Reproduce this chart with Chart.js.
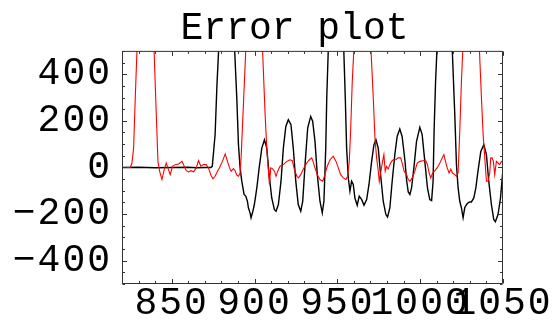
<!DOCTYPE html>
<html>
<head>
<meta charset="utf-8">
<script src="https://cdn.jsdelivr.net/npm/chart.js@4.4.1/dist/chart.umd.min.js"></script>
<style>
  html, body { margin: 0; padding: 0; background: #fff; }
</style>
</head>
<body>
<canvas id="errorChart" width="557" height="321"></canvas>
<script>
// === Error plot ===
const xTicks = [850, 900, 950, 1000, 1050];
const yTicks = [-400, -200, 0, 200, 400];

const blackX = [820, 830, 840, 850, 860, 865, 870, 873.6, 874.5, 876.2, 877.3, 883.3, 889.3, 890.3, 891.3, 892.3,
  893.7, 894.7, 895.7, 896.3, 897.3, 897.9, 899.0, 899.9, 901.4, 902.8, 904.4, 906.0, 907.4, 908.8, 910.4, 912.0,
  913.0, 914.4, 916.0, 917.4, 918.9, 920.4, 922.0, 923.4, 924.9, 926.4, 927.9, 929.1, 930.5, 932.1, 933.9, 935.1,
  936.5, 937.9, 939.5, 940.9, 941.9, 943.0, 943.6, 949.2, 954.8, 955.6, 956.6, 957.6, 958.6, 959.6, 960.6, 962.0,
  963.2, 964.7, 966.1, 967.7, 969.1, 970.7, 972.1, 973.3, 974.7, 976.1, 977.7, 979.3, 980.3, 981.7, 983.1, 984.7,
  986.1, 987.7, 989.1, 990.8, 991.8, 992.8, 993.8, 994.8, 996.2, 997.8, 999.8, 1001.2, 1002.8, 1004.4, 1005.8, 1006.9,
  1007.8, 1008.4, 1009.3, 1015, 1020.9, 1021.9, 1022.9, 1023.9, 1024.9, 1025.9, 1026.9, 1028.0, 1028.9, 1029.9, 1030.9,
  1032.4, 1033.6, 1034.9, 1036.6, 1038.4, 1040.0, 1041.4, 1043.0, 1044.4, 1045.4, 1047.0, 1048.5, 1049.7, 1050];
const blackY = [0, 1, -1, 0, 1, -1, 0, 0, 5, 140, 350, 1250, 297, 98, -2, -59,
  -116, -123, -145, -173, -195, -216, -188, -159, -88, -2, 83, 119, 83, -31, -131, -181,
  -188, -159, -59, 83, 176, 205, 183, 83, -59, -159, -188, -145, 12, 169, 219, 198,
  112, -31, -145, -195, -145, 83, 297, 1557, 297, 83, -45, -102, -59, -73, -131, -162,
  -123, -138, -162, -138, -73, 26, 98, 119, 83, -31, -145, -202, -213, -173, -59, 55,
  133, 165, 133, 30, -55, -105, -116, -88, -2, 112, 172, 141, 26, -88, -138, -142,
  -59, 155, 369, 1300, 226, 12, -88, -145, -173, -216, -173, -159, -152, -148, -148,
  -131, -88, -16, 69, 98, 55, -59, -159, -223, -233, -202, -131, -31, -10];

const redX = [820, 825, 826, 827, 828, 834.3, 840.7, 841.7, 842.7, 844.1, 845.5, 846.7, 847.7, 849.1, 850.5, 852.1,
  854.1, 856.2, 857.6, 858.8, 860.1, 861.6, 863.2, 864.8, 866.2, 867.6, 869.2, 870.8, 872.2, 873.6, 874.9, 876.2,
  877.6, 878.8, 880.6, 882.3, 883.7, 884.9, 885.9, 887.3, 888.3, 889.3, 890.3, 891.3, 891.9, 900, 906.4, 907.4,
  908.4, 909.0, 909.8, 910.8, 912.0, 913.0, 914.0, 915.4, 917.4, 919.5, 921.4, 922.8, 924.0, 925.5, 926.5, 927.9,
  929.5, 931.5, 932.9, 934.5, 935.3, 936.5, 937.9, 939.5, 941.2, 942.5, 943.9, 945.6, 947.5, 949.2, 950.6, 952.0,
  953.6, 955.2, 956.2, 957.2, 958.0, 959.0, 965.3, 971.7, 972.7, 973.7, 974.7, 975.3, 976.3, 977.3, 978.1, 978.9,
  979.7, 980.7, 981.7, 982.7, 983.7, 985.3, 986.7, 988.2, 989.4, 990.3, 991.8, 992.8, 993.8, 995.2, 996.8, 998.2,
  999.8, 1001.8, 1003.2, 1004.4, 1005.4, 1006.4, 1007.5, 1008.9, 1010.2, 1011.9, 1013.3, 1014.3, 1015.3, 1016.3,
  1017.5, 1018.5, 1019.5, 1020.9, 1021.9, 1022.9, 1023.9, 1024.9, 1030.8, 1037.0, 1038.0, 1039.0, 1040.0, 1041.0,
  1042.0, 1042.6, 1043.4, 1044.2, 1045.0, 1046.0, 1047.0, 1048.0, 1049.0, 1050];
const redY = [0, 0, 19, 83, 297, 1550, 226, 26, -16, -52, -9, 19, -2, -31, 5, 12,
  15, 26, 5, -14, -19, -14, -19, -2, 29, 5, 12, 12, -2, -31, -49, -38,
  -16, -2, 26, 58, 26, -2, -16, -5, -14, -33, -38, -24, 41, 1370, 226, 83,
  -16, -73, -2, -5, -16, -38, -16, 5, 12, 26, 33, 29, -7, -38, -45, -31,
  -7, 19, 31, 41, 26, -2, -31, -52, -59, -31, 5, 33, 48, 26, -2, -31,
  -45, -52, -38, 26, 155, 369, 1250, 297, 126, 41, -16, -59, -16, 26, 55, -16,
  5, -7, 12, 26, 33, 33, 41, 41, 12, -16, -31, -52, -59, -45, -16, 19,
  26, 29, 31, 12, -24, -45, -24, -14, -2, 19, 41, 55, 26, -2,
  -24, -7, -24, -31, -38, -24, 155, 369, 1335, 297, 141, 41, -59, -59,
  -24, 41, 41, 26, -31, 26, 19, 12, 26, 24];

const monoFont = "'Liberation Mono', 'DejaVu Sans Mono', monospace";
const toPoints = (xs, ys) => xs.map((x, i) => ({ x: x, y: ys[i] }));
const fmt = v => (v < 0 ? '\u2212' + Math.abs(v) : String(v));

// tick labels: a little wider spacing, and no clipping to the axis box
function spaceLabels(scale) {
  if (scale._spaced) return;
  scale._spaced = true;
  const orig = scale.drawLabels;
  scale._computeLabelArea = () => undefined;
  scale.drawLabels = function (area) {
    this.ctx.letterSpacing = '2px';
    orig.call(this, area);
    this.ctx.letterSpacing = '0px';
  };
}

// frame with inward ticks on all four sides
const frameTicks = {
  id: 'frameTicks',
  afterDraw(chart) {
    const { ctx, chartArea: a, scales: { x, y } } = chart;
    const L = a.left + 0.5, R = a.right - 0.5, T = a.top + 0.5, B = a.bottom - 0.5;
    ctx.save();
    ctx.strokeStyle = '#333';
    ctx.lineWidth = 1;
    ctx.beginPath();
    for (let v = 820; v <= 1050; v += 10) {
      const px = Math.round(x.getPixelForValue(v)) + 0.5;
      const len = xTicks.includes(v) ? 4.5 : 2.5;
      ctx.moveTo(px, B); ctx.lineTo(px, B - len);
      ctx.moveTo(px, T); ctx.lineTo(px, T + len);
    }
    for (let v = -500; v <= 500; v += 50) {
      const py = Math.round(y.getPixelForValue(v)) + 0.5;
      const len = yTicks.includes(v) ? 4.5 : 2.5;
      ctx.moveTo(L, py); ctx.lineTo(L + len, py);
      ctx.moveTo(R, py); ctx.lineTo(R - len, py);
    }
    ctx.moveTo(L, T); ctx.lineTo(R, T); ctx.lineTo(R, B); ctx.lineTo(L, B); ctx.closePath();
    ctx.stroke();
    ctx.restore();
  }
};

new Chart(document.getElementById('errorChart'), {
  type: 'scatter',
  data: {
    datasets: [
      { data: toPoints(redX, redY), borderColor: '#ff0000', borderWidth: 1.1, order: 0 },
      { data: toPoints(blackX, blackY), borderColor: '#000000', borderWidth: 1.4, order: 1 }
    ].map(d => Object.assign(d, { showLine: true, pointRadius: 0, tension: 0, clip: 0 }))
  },
  options: {
    responsive: false,
    animation: false,
    layout: { padding: { left: 32, top: 0, right: 0, bottom: 0 } },
    plugins: {
      legend: { display: false },
      tooltip: { enabled: false },
      title: {
        display: true,
        text: 'Error plot',
        color: '#000',
        font: { family: monoFont, size: 38, weight: 'normal', lineHeight: 1.155 },
        padding: { top: 7, bottom: 0 }
      }
    },
    scales: {
      x: {
        type: 'linear',
        min: 820,
        max: 1050,
        grid: { display: false, drawTicks: false },
        border: { display: false },
        afterBuildTicks: s => {
          s.ticks = [];
          for (let v = 820; v <= 1050; v += 10) s.ticks.push({ value: v });
        },
        afterFit: s => {
          s.height = 37;
          s.paddingLeft = 0;
          s.paddingRight = 54;
          spaceLabels(s);
        },
        ticks: {
          autoSkip: false,
          maxRotation: 0,
          minRotation: 0,
          padding: -3,
          color: '#000',
          font: { family: monoFont, size: 38 },
          callback: v => (xTicks.includes(v) ? String(v) : '')
        }
      },
      y: {
        min: -500,
        max: 500,
        grid: { display: false, drawTicks: false },
        border: { display: false },
        afterBuildTicks: s => {
          s.ticks = [];
          for (let v = -500; v <= 500; v += 50) s.ticks.push({ value: v });
        },
        afterFit: s => {
          s.width = 90;
          s.paddingTop = 0;
          s.paddingBottom = 0;
          spaceLabels(s);
        },
        ticks: {
          autoSkip: false,
          padding: 10,
          color: '#000',
          font: { family: monoFont, size: 38 },
          callback: v => (yTicks.includes(v) ? fmt(v) : '')
        }
      }
    }
  },
  plugins: [frameTicks]
});
</script>
</body>
</html>
